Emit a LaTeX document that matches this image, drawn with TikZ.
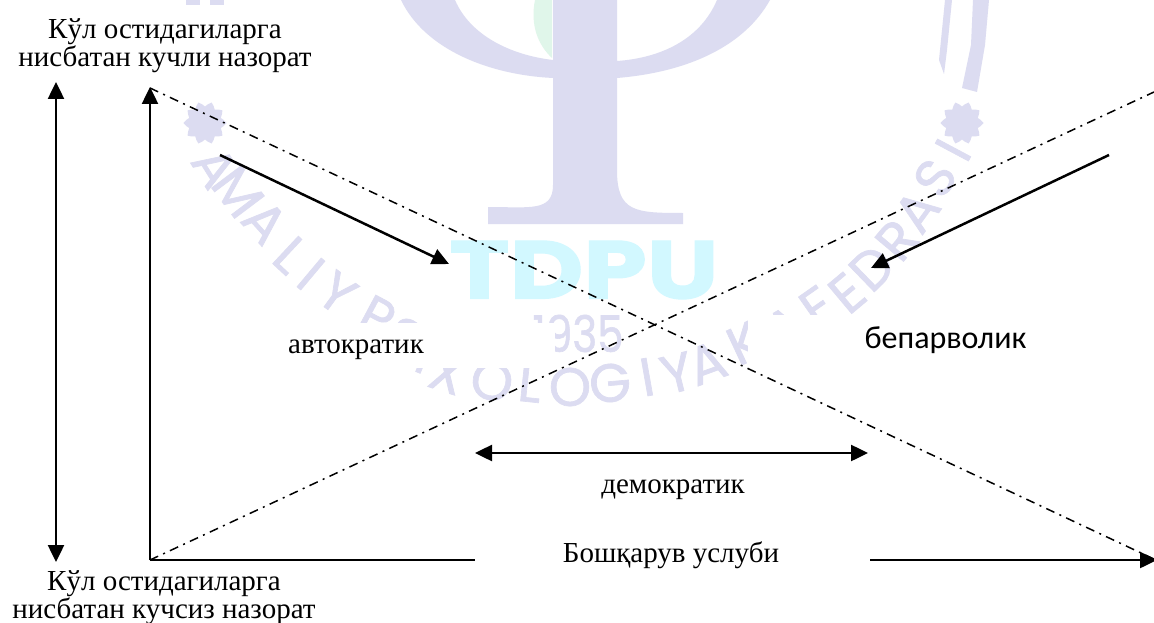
\documentclass[tikz,border=0pt]{standalone}
\usepackage{fontspec}
\setmainfont{Liberation Serif}
\newfontfamily\labelsans{Carlito}
\newfontfamily\markfont[FakeBold=1.2]{Poppins}
\newfontfamily\heavyfont[BoldFeatures={FakeBold=1.5}]{Poppins}
\usetikzlibrary{arrows.meta}
\definecolor{wmblue}{HTML}{DCDCF1}
\definecolor{wmcyan}{HTML}{D2F8FF}
\definecolor{wmgreen}{HTML}{E0F6EA}
\tikzset{
  x=1pt,y=-1pt,
  solidarrow/.style={line width=2.5pt,-{Triangle[length=17pt,width=16pt]}},
  bothways/.style={line width=2.5pt,{Triangle[length=17pt,width=16pt]}-{Triangle[length=17pt,width=16pt]}},
  guideline/.style={line width=1.5pt,dash pattern=on 9pt off 5.5pt on 2pt off 5.5pt},
  caption/.style={align=center,font=\fontsize{29}{27}\selectfont,inner sep=0pt},
  oneline/.style={font=\fontsize{29}{27}\selectfont,inner sep=0pt,anchor=base},
  wmletter/.style={text=wmblue,font=\markfont\fontsize{54}{54}\selectfont,inner sep=0pt,anchor=center}
}
\begin{document}
\begin{tikzpicture}
\useasboundingbox (0,0) rectangle (1154,623);
\fill[white] (0,0) rectangle (1154,623);
% watermark
\fill[wmgreen] (535,0) .. controls (530,25) and (538,45) .. (552,58) -- (552,0) -- cycle;
\fill[wmblue] (401,0) .. controls (425,50) and (490,75) .. (553,78)
  -- (553,185) .. controls (553,212) and (530,207) .. (488,207) -- (488,224) -- (683,224) -- (683,213)
  .. controls (635,213) and (617,212) .. (617,170) -- (617,78)
  .. controls (690,72) and (745,45) .. (770,0) -- (717,0)
  .. controls (700,40) and (660,58) .. (617,61) -- (617,0) -- (553,0) -- (553,60)
  .. controls (510,55) and (470,35) .. (455,0) -- cycle;
\fill[wmblue] (186,0) rectangle (200,5);
\fill[wmblue] (210,0) rectangle (224,5);
\fill[wmblue] (945,0) -- (952,0) -- (947,50) -- (944,74) -- (939,60) -- cycle;
\fill[wmblue] (973,0) -- (989,0) -- (985,45) -- (977,92) -- (962,88) -- (971,45) -- cycle;
\foreach \sx/\sy in {205/123,962/123}{
  \fill[wmblue] plot[samples=41,domain=0:360] ({\sx+(19+2.5*cos(10*\x))*cos(\x)},{\sy+(19+2.5*cos(10*\x))*sin(\x)}) -- cycle;
}
\node[text=wmcyan,inner sep=0pt] (wmtdpu) at (584,270) {\scalebox{1.24}[1]{\heavyfont\bfseries\fontsize{82}{82}\selectfont TDPU}};
\node[text=wmblue,inner sep=0pt] (wmyear) at (578,333.5) {\scalebox{1}[1.2]{\markfont\fontsize{42}{42}\selectfont 1935}};
\foreach \lx/\ly/\rot/\ch in {215/167/-58/A,238/192/-53/M,265/222/-48/A,291/255/-43/L,311/274/-40/I,337/293/-36/Y,377/317/-28/P,405/338/-24/S,425/355/-22/I,447/373/-18/X,492/381/-12/O,530/383/-6/L,570/387/0/O,610/383/5/G,647/377/10/I,677/373/14/Y,707/363/20/A,745/343/25/K,785/328/30/A,817/307/35/F,847/293/40/E,872/268/44/D,897/240/50/R,917/211/54/A,935/178/58/S,953/150/62/I}{
  \node[wmletter,rotate=\rot] at (\lx,\ly) {\ch};
}
% masks that the labels carry over the watermark
\fill[white] (195,323) rectangle (555,368);
\fill[white] (748,315) rectangle (1060,360);
% anchors
\coordinate (corner) at (150,560);
\coordinate (axistop) at (150,87);
\coordinate (axisend) at (1157,560);
\coordinate (lefttop) at (56,82);
\coordinate (leftbot) at (56,562);
\coordinate (diagA) at (150,88);
\coordinate (diagB) at (1156,560);
\coordinate (diagC) at (1154,92);
\coordinate (autoS) at (220,155);
\coordinate (autoE) at (449,264);
\coordinate (lazyS) at (1109,155);
\coordinate (lazyE) at (871,268);
\coordinate (demoL) at (475,453);
\coordinate (demoR) at (868,453);
% connectors
\draw[guideline] (diagA) -- (diagB);
\draw[guideline] (corner) -- (diagC);
\draw[bothways] (lefttop) -- (leftbot);
\draw[solidarrow] (corner) -- (axistop);
\draw[solidarrow] (corner) -- (axisend);
\draw[solidarrow] (autoS) -- (autoE);
\draw[solidarrow] (lazyS) -- (lazyE);
\draw[bothways] (demoL) -- (demoR);
\fill[white] (475,538) rectangle (870,582);
% labels
\node[caption] (hi) at (165,46) {Кўл остидагиларга\\нисбатан кучли назорат};
\node[caption] (lo) at (164,598) {Кўл остидагиларга\\нисбатан кучсиз назорат};
\node[oneline] (auto) at (356,353) {автократик};
\node[oneline,font=\labelsans\fontsize{32}{32}\selectfont] (lazy) at (945.5,348) {бепарволик};
\node[oneline] (demo) at (673,493) {демократик};
\node[oneline] (style) at (671,562) {Бошқарув услуби};
\end{tikzpicture}
\end{document}
